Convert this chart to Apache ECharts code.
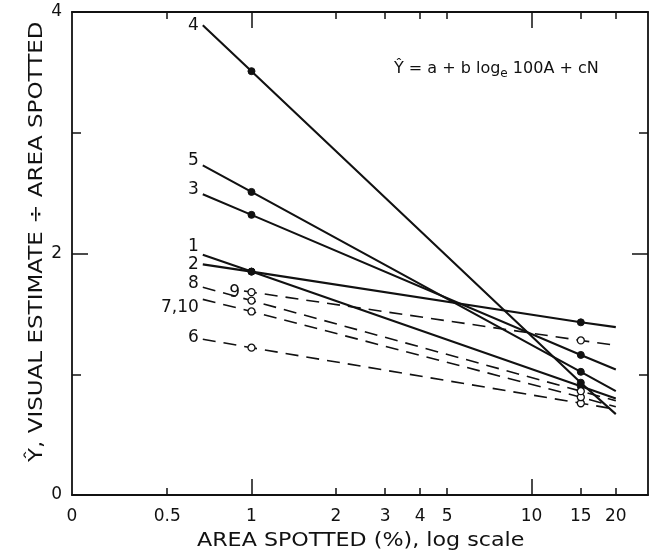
<!DOCTYPE html>
<html><head><meta charset="utf-8">
<script src="https://cdn.jsdelivr.net/npm/echarts@6/dist/echarts.min.js"></script>
<style>html,body{margin:0;padding:0;background:#fff}#c{width:657px;height:555px}</style>
</head><body><div id="c"></div>
<script>
// ---- data ----
const areaTicks = [0.5, 1, 2, 3, 4, 5, 10, 15, 20];      // x tick labels (%), log scale
const areaMajor = [1, 10];                                // long ticks
const yTickLabels = [0, 2, 4];
const yMinorTicks = [1, 3];
const lineNames = ['1', '2', '3', '4', '5', '6', '7,10', '8', '9'];
const areaFull = [0.67, 1, 15, 20];
const area9 = [0.94, 1, 15, 20];
const line1 = [1.99, 1.85, 0.90, 0.80];
const line2 = [1.91, 1.85, 1.43, 1.39];
const line3 = [2.49, 2.32, 1.16, 1.04];
const line4 = [3.89, 3.51, 0.93, 0.67];
const line5 = [2.73, 2.51, 1.02, 0.86];
const line6 = [1.29, 1.22, 0.76, 0.71];
const line710 = [1.62, 1.52, 0.81, 0.73];
const line8 = [1.72, 1.61, 0.86, 0.78];
const line9 = [1.69, 1.68, 1.28, 1.24];

// ---- styling ----
const FONT = 'DejaVu Sans';
const INK = '#111';
const xMinLog = -0.641, xMaxLog = 1.416;   // axis extent (log10 of area)
const lines = [
  {name: lineNames[0], x: areaFull, y: line1, dashed: false, off: [0, -8]},
  {name: lineNames[1], x: areaFull, y: line2, dashed: false, off: [0, 0]},
  {name: lineNames[2], x: areaFull, y: line3, dashed: false, off: [0, -5]},
  {name: lineNames[3], x: areaFull, y: line4, dashed: false, off: [0, 0]},
  {name: lineNames[4], x: areaFull, y: line5, dashed: false, off: [0, -5]},
  {name: lineNames[5], x: areaFull, y: line6, dashed: true, off: [0, -2]},
  {name: lineNames[6], x: areaFull, y: line710, dashed: true, off: [0, 8]},
  {name: lineNames[7], x: areaFull, y: line8, dashed: true, off: [0, -4]},
  {name: lineNames[8], x: area9, y: line9, dashed: true, off: [0, 2]}
];

const series = lines.map(l => ({
  type: 'line',
  name: l.name,
  silent: true,
  animation: false,
  lineStyle: {color: INK, width: l.dashed ? 1.6 : 2.1, type: l.dashed ? [13, 8] : 'solid'},
  itemStyle: {color: l.dashed ? '#fff' : INK, borderColor: INK, borderWidth: l.dashed ? 1.3 : 1},
  symbol: 'circle',
  data: l.x.map((a, i) => ({
    value: [Math.log10(a), l.y[i]],
    symbolSize: (i === 1 || i === 2) ? 7 : 0,
    label: i === 0 ? {show: true, position: 'left', distance: 4, offset: l.off,
      formatter: l.name, color: INK, fontFamily: FONT, fontSize: 17} : {show: false}
  }))
}));

function xAxisCfg(pos, vals, len, showLabel, showLine) {
  return {
    type: 'value', position: pos, min: xMinLog, max: xMaxLog,
    axisLine: {show: showLine, onZero: false, lineStyle: {color: INK, width: 1.8}},
    splitLine: {show: false},
    axisTick: {show: true, inside: true, length: len, customValues: vals.map(v => Math.log10(v)),
      lineStyle: {color: INK, width: 1.5}},
    axisLabel: showLabel ? {
      show: true, customValues: [xMinLog].concat(areaTicks.map(v => Math.log10(v))),
      formatter: v => {
        if (Math.abs(v - xMinLog) < 1e-6) return '0';
        const a = Math.pow(10, v);
        return String(Math.round(a * 10) / 10);
      },
      color: INK, fontFamily: FONT, fontSize: 17, margin: 13
    } : {show: false}
  };
}
function yAxisCfg(pos, vals, len, showLabel, showLine) {
  return {
    type: 'value', position: pos, min: 0, max: 4,
    axisLine: {show: showLine, onZero: false, lineStyle: {color: INK, width: 1.8}},
    splitLine: {show: false},
    axisTick: {show: true, inside: true, length: len, customValues: vals, lineStyle: {color: INK, width: 1.5}},
    axisLabel: showLabel ? {show: true, customValues: yTickLabels, color: INK, fontFamily: FONT, fontSize: 17, margin: 10,
      verticalAlign: 'middle'} : {show: false}
  };
}
const shortX = areaTicks.filter(v => areaMajor.indexOf(v) < 0);

const chart = echarts.init(document.getElementById('c'), null, {renderer: 'canvas'});
chart.setOption({
  backgroundColor: '#fff',
  animation: false,
  grid: {left: 72, right: 9, top: 12, bottom: 60, containLabel: false},
  xAxis: [
    xAxisCfg('bottom', shortX, 7, true, true),
    xAxisCfg('bottom', areaMajor, 16, false, false),
    xAxisCfg('top', shortX, 7, false, true),
    xAxisCfg('top', areaMajor, 16, false, false)
  ],
  yAxis: [
    yAxisCfg('left', yMinorTicks, 9, true, true),
    yAxisCfg('left', [2], 16, false, false),
    yAxisCfg('right', yMinorTicks, 9, false, true),
    yAxisCfg('right', [2], 16, false, false)
  ],
  series: series,
  graphic: [
    {type: 'text', left: 394, top: 61, style: {
      text: '{a|Ŷ = a + b log}{s|e}{a| 100A + cN}',
      rich: {a: {fontFamily: FONT, fontSize: 16, fill: INK},
             s: {fontFamily: FONT, fontSize: 12, fill: INK, padding: [10, 0, 0, 0]}}
    }},
    {type: 'text', x: 197, y: 531, scaleX: 1.11, style: {
      text: 'AREA SPOTTED (%), log scale', fontFamily: FONT, fontSize: 20, fill: INK
    }},
    {type: 'text', rotation: Math.PI / 2, x: 27, y: 462, scaleX: 1.15, style: {
      text: 'Ŷ, VISUAL ESTIMATE ÷ AREA SPOTTED', fontFamily: FONT, fontSize: 20, fill: INK,
      verticalAlign: 'top', align: 'left'
    }}
  ]
});
</script></body></html>
